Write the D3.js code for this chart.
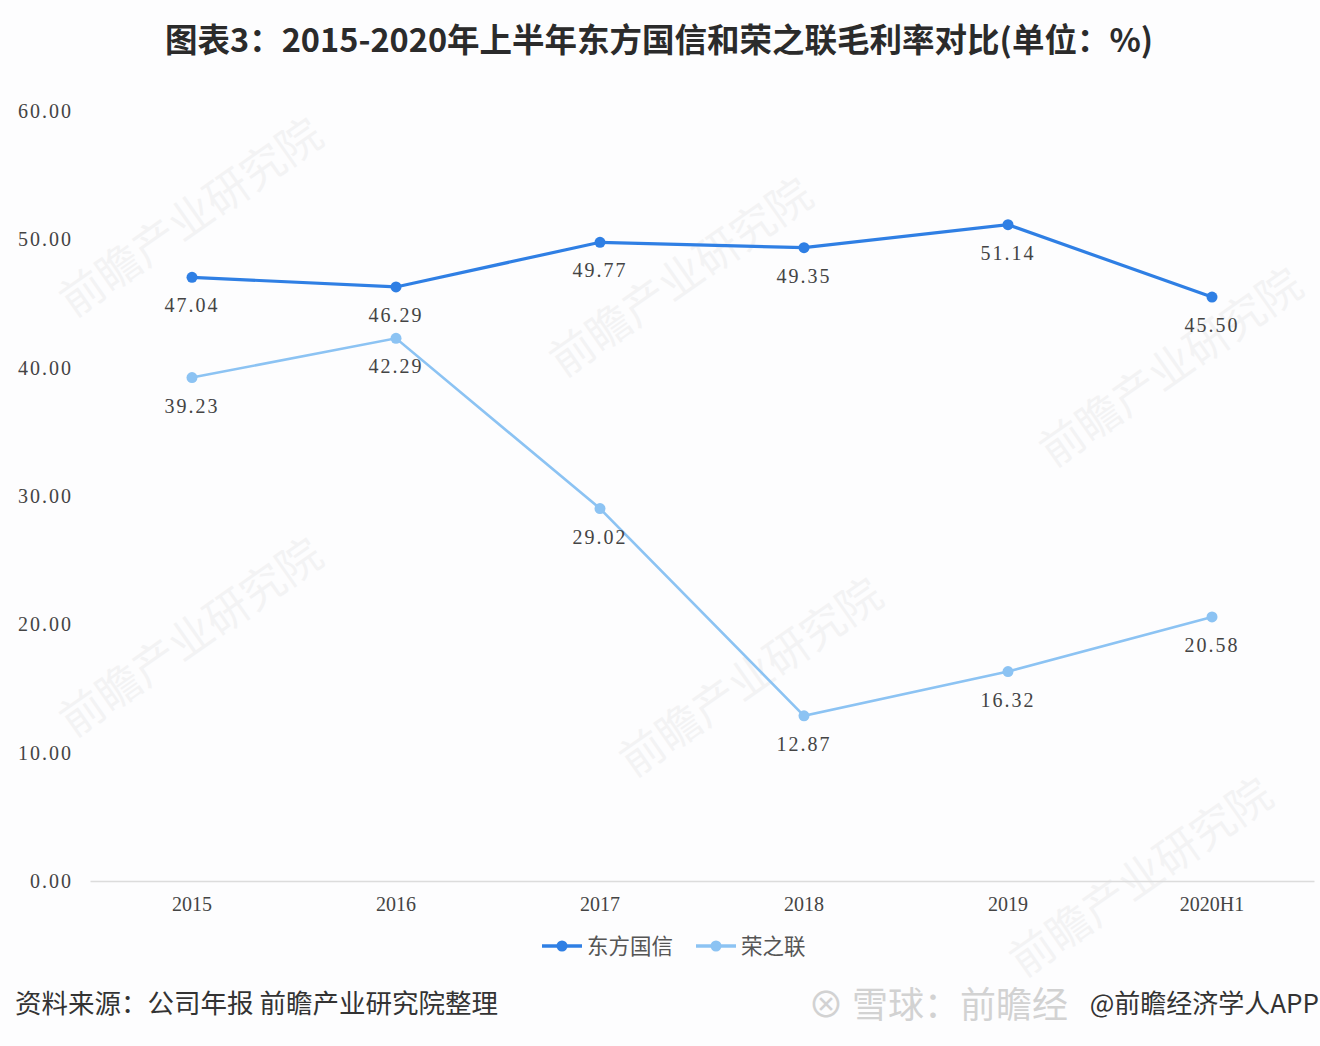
<!DOCTYPE html>
<html><head><meta charset="utf-8">
<script src="https://cdn.jsdelivr.net/npm/d3@7"></script>
<style>
html,body{margin:0;padding:0;background:#fdfdfe;}
svg{display:block;}
</style></head>
<body><svg id="c" width="1320" height="1046"></svg>
<script>
const categories = ["2015","2016","2017","2018","2019","2020H1"];
const seriesNames = ["东方国信","荣之联"];
const dfgx = [47.04,46.29,49.77,49.35,51.14,45.50];
const rzl = [39.23,42.29,29.02,12.87,16.32,20.58];
const yTicks = [0,10,20,30,40,50,60];
const colors = ["#2f7fe4","#8cc3f3"];

const svg = d3.select("#c");
svg.append("rect").attr("width",1320).attr("height",1046).attr("fill","#fdfdfe");

// faint watermarks
const wm = [[200,230],[690,290],[1180,380],[200,650],[760,690],[1150,890]];
wm.forEach(([x,y])=>{
  svg.append("text").attr("transform",`translate(${x},${y}) rotate(-35)`)
    .attr("text-anchor","middle").attr("font-family","Noto Sans CJK SC").attr("font-size",44)
    .attr("fill","#000").attr("opacity",0.035).text("前瞻产业研究院");
});

const x = d3.scaleBand().domain(categories).range([90,1314]);
const y = d3.scaleLinear().domain([0,60]).range([881,111]);
const cx = d => x(d)+x.bandwidth()/2;

// title
svg.append("text").attr("x",659).attr("y",52).attr("text-anchor","middle")
  .attr("font-family","Noto Sans CJK SC").attr("font-weight","bold").attr("font-size",32.5)
  .attr("fill","#2b2b2b").text("图表3：2015-2020年上半年东方国信和荣之联毛利率对比(单位：%)");

// baseline axis
const xa = svg.append("g").attr("transform","translate(0,881)").call(d3.axisBottom(x).tickSize(0).tickPadding(16));
xa.select(".domain").attr("stroke","#dcdcdc").attr("stroke-width",1.5);
xa.selectAll("text").attr("font-family","Liberation Serif").attr("font-size",20).attr("fill","#444");

const ya = svg.append("g").attr("transform","translate(73,0)").call(d3.axisLeft(y).tickValues(yTicks).tickSize(0).tickPadding(0).tickFormat(d3.format(".2f")));
ya.select(".domain").remove();
ya.selectAll("text").attr("font-family","Liberation Serif").attr("font-size",20).attr("fill","#444").attr("letter-spacing",2);

const series = [dfgx, rzl];
series.forEach((vals,i)=>{
  const pts = categories.map((c,j)=>({c,v:vals[j]}));
  svg.append("path").datum(pts).attr("fill","none").attr("stroke",colors[i]).attr("stroke-width",i===0?3.2:2.6)
    .attr("d",d3.line().x(d=>cx(d.c)).y(d=>y(d.v)));
  svg.selectAll(null).data(pts).enter().append("circle")
    .attr("cx",d=>cx(d.c)).attr("cy",d=>y(d.v)).attr("r",5.5).attr("fill",colors[i]);
  svg.selectAll(null).data(pts).enter().append("text")
    .attr("x",d=>cx(d.c)).attr("y",d=>y(d.v)+35).attr("text-anchor","middle")
    .attr("font-family","Liberation Serif").attr("font-size",20).attr("fill","#444").attr("letter-spacing",2)
    .text(d=>d3.format(".2f")(d.v));
});

// legend
const lg = [[542,587],[696,741]];
seriesNames.forEach((n,i)=>{
  const [lx,tx]=lg[i];
  svg.append("line").attr("x1",lx).attr("x2",lx+40).attr("y1",946).attr("y2",946).attr("stroke",colors[i]).attr("stroke-width",3.5);
  svg.append("circle").attr("cx",lx+20).attr("cy",946).attr("r",5.5).attr("fill",colors[i]);
  svg.append("text").attr("x",tx).attr("y",954).attr("font-family","Noto Sans CJK SC").attr("font-size",21.5).attr("fill","#555").text(n);
});

// source
svg.append("text").attr("x",15).attr("y",1013).attr("font-family","Noto Sans CJK SC").attr("font-size",26.5).attr("fill","#333").text("资料来源：公司年报 前瞻产业研究院整理");
svg.append("text").attr("x",808).attr("y",1018).attr("font-family","Noto Sans CJK SC").attr("font-size",36).attr("fill","#c8c8c8").attr("opacity",0.8).text("⊗ 雪球：前瞻经");
svg.append("text").attr("x",1319).attr("y",1013).attr("text-anchor","end").attr("font-family","Noto Sans CJK SC").attr("font-size",26).attr("fill","#333").text("@前瞻经济学人APP");
</script></body></html>
